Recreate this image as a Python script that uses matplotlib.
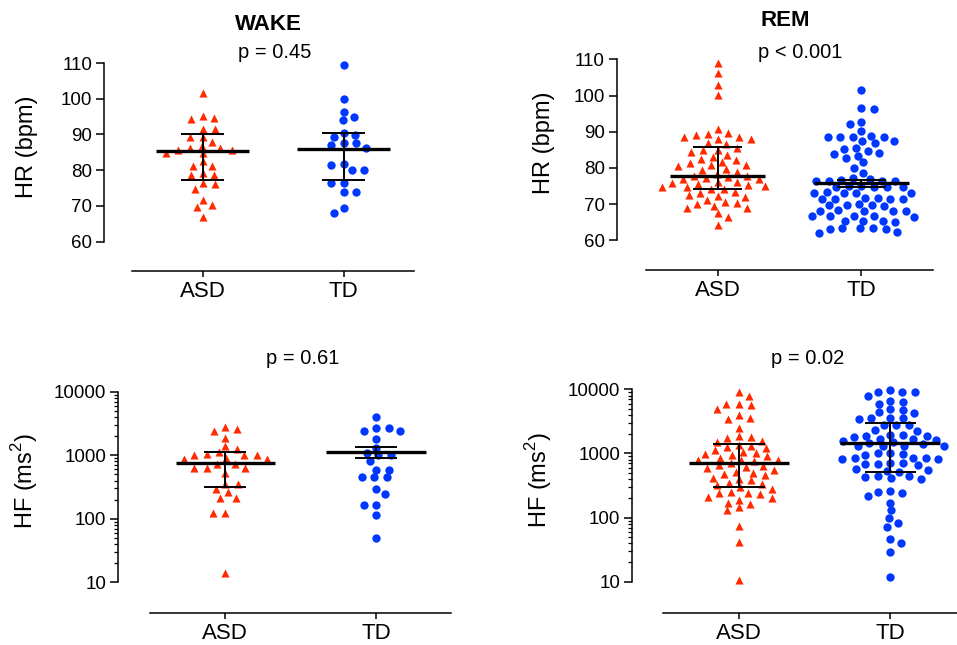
import numpy as np
import matplotlib.pyplot as plt
from matplotlib.ticker import LogLocator, NullFormatter

plt.rcParams['font.family'] = ['Liberation Sans', 'DejaVu Sans']
plt.rcParams['mathtext.fontset'] = 'custom'
plt.rcParams['mathtext.rm'] = 'Liberation Sans'

groups = ['ASD', 'TD']

# HR (bpm), wake
wake_hr_asd = [101.7, 95.2, 94.6, 94.4, 91.5, 91.5, 89.3, 89.3, 88.0, 86.9, 86.3, 86.3,
               85.7, 85.7, 84.8, 84.8, 82.6, 81.3, 81.3, 79.3, 78.6, 78.6, 76.5, 76.2,
               74.8, 71.7, 70.3, 69.8, 67.0]
wake_hr_td = [109.4, 99.9, 96.2, 95.0, 94.0, 90.5, 89.9, 89.2, 87.5, 87.5, 87.1, 86.3,
              81.7, 81.5, 80.1, 80.1, 76.4, 76.4, 74.0, 74.0, 69.4, 68.1]

# HR (bpm), REM
rem_hr_asd = [108.9, 106.3, 102.8, 100.1, 90.7, 89.6, 89.4, 89.1, 88.6, 88.4, 88.1, 87.9,
              86.8, 86.6, 85.6, 84.9, 84.9, 84.5, 83.6, 83.0, 82.4, 82.1, 81.7, 81.3,
              80.8, 80.8, 80.6, 79.7, 79.5, 78.9, 78.3, 77.8, 77.7, 77.5, 77.1, 76.8,
              76.8, 76.0, 76.0, 75.8, 75.5, 75.3, 75.0, 74.7, 74.7, 74.2, 74.2, 73.4,
              73.2, 72.6, 72.3, 72.0, 71.2, 70.6, 70.3, 69.9, 69.5, 69.0, 68.8, 67.5,
              66.4, 64.2]
rem_hr_td = [101.5, 96.5, 96.3, 92.8, 92.0, 90.1, 88.9, 88.6, 88.6, 88.6, 88.6, 87.3,
             87.3, 86.9, 85.5, 85.2, 84.7, 84.0, 83.9, 83.4, 82.7, 81.5, 80.0, 78.5,
             77.3,
             76.8, 76.6, 76.5, 76.5, 76.4, 76.3,
             75.0, 74.9, 74.8, 74.8, 74.7, 74.6,
             73.3, 73.2, 73.2, 73.1, 73.0,
             71.7, 71.6, 71.5, 71.4, 71.4, 71.3,
             69.9, 69.8, 69.8, 69.7, 69.6,
             68.3, 68.2, 68.2, 68.1, 68.0,
             66.8, 66.7, 66.7, 66.6, 66.5,
             65.4, 65.3, 65.2, 65.1,
             63.4, 63.3, 63.3, 63.2, 63.2,
             62.3, 62.1]

# HF (ms^2), wake
wake_hf_asd = [2750, 2550, 2430, 1840, 1400, 1240, 1110, 1050, 1000, 1000, 1000, 890,
               870, 860, 740, 740, 630, 630, 630, 520, 347, 347, 290, 263, 214, 214,
               122, 122, 14]
wake_hf_td = [3950, 2650, 2650, 2400, 2400, 1780, 1310, 1100, 1000, 1000, 820, 585,
              585, 447, 447, 447, 294, 245, 165, 165, 115, 49]

# HF (ms^2), REM
rem_hf_asd = [9200, 7800, 5900, 5900, 5700, 5000, 4000, 3600, 3500, 2500, 1900, 1800,
              1750, 1550, 1500, 1350, 1300, 1250, 1200, 1150, 1050, 1000, 980, 950,
              900, 860, 800, 790, 780, 760, 700, 650, 640, 620, 600, 560, 520, 500,
              480, 460, 420, 400, 380, 340, 330, 320, 300, 280, 250, 245, 240, 230,
              210, 205, 190, 170, 165, 145, 130, 75, 42, 10.5]
rem_hf_td = [9900, 9200, 9200, 9200, 8000, 6600, 6400, 5800, 4900, 4800, 4400, 4200,
             3550, 3550, 3550, 3500, 2800, 2780, 2750, 2300, 2250, 1950, 1950, 1900,
             1900, 1800, 1700, 1650, 1600, 1550, 1500, 1450, 1400, 1320, 1320, 1300,
             1300, 1000, 1000, 980, 960, 850, 850, 840, 830, 820, 700, 700, 690, 680,
             660, 570, 560, 540, 520, 450, 440, 430, 420, 400, 260, 250, 240, 215,
             170, 130, 100, 83, 72, 46, 40, 29, 12]

# median and interquartile range (ASD, TD) as drawn in the figure
wake_hr_med, wake_hr_q1, wake_hr_q3 = [85.3, 85.8], [77.2, 77.3], [90.0, 90.4]
rem_hr_med, rem_hr_q1, rem_hr_q3 = [77.8, 75.7], [74.2, 74.7], [85.8, 76.7]
wake_hf_med, wake_hf_q1, wake_hf_q3 = [762, 1120], [320, 895], [1137, 1340]
rem_hf_med, rem_hf_q1, rem_hf_q3 = [700, 1470], [299, 520], [1390, 2950]

W, H = 957, 645
RED = '#ff2a00'
BLUE = '#0037ff'

fig = plt.figure(figsize=(W / 100, H / 100), dpi=100)


def px_axes(x0, x1, ytop, ybot):
    return fig.add_axes([x0 / W, 1 - ybot / H, (x1 - x0) / W, (ybot - ytop) / H])


def swarm_x(ax, xc, values, dx_min=12.5, dy_min=7.5):
    """Greedy beeswarm with a wider horizontal than vertical spacing (GraphPad-like)."""
    pts = ax.transData.transform(np.column_stack([np.full(len(values), xc), values]))
    ys = pts[:, 1] * (dx_min / dy_min)
    d = dx_min
    placed = []
    offs = np.zeros(len(values))
    side = 1
    for i in np.argsort(-ys, kind='stable'):
        y = ys[i]
        cands = [0.0]
        for px, py in placed:
            dy = abs(py - y)
            if dy < d:
                dx = np.sqrt(d * d - dy * dy)
                cands += [px + dx, px - dx]
        # ties go to alternating sides so rows stay balanced
        cands.sort(key=lambda c: (round(abs(c), 3), -side * np.sign(c)))
        for c in cands:
            if all((c - px) ** 2 + (y - py) ** 2 >= d * d - 1e-6 for px, py in placed):
                break
        if c != 0:
            side = -np.sign(c)
        placed.append((c, y))
        offs[i] = c
    px_per_unit = ax.transData.transform((1, 0))[0] - ax.transData.transform((0, 0))[0]
    return xc + offs / px_per_unit


def draw_panel(ax, asd, td, med, q1, q3, log, left_out, bottom_out, half, cap):
    ax.set_xlim(-0.5, 1.5)
    if log:
        ax.set_yscale('log')
        ax.set_ylim(10, 10000)
        ax.set_yticks([10, 100, 1000, 10000])
        ax.set_yticklabels(['10', '100', '1000', '10000'])
        ax.yaxis.set_minor_locator(LogLocator(base=10, subs=np.arange(2, 10)))
        ax.yaxis.set_minor_formatter(NullFormatter())
    else:
        ax.set_ylim(60, 110)
        ax.set_yticks(np.arange(60, 111, 10))

    ax.set_xticks([0, 1])
    ax.set_xticklabels(groups)

    for s in ['top', 'right']:
        ax.spines[s].set_visible(False)
    ax.spines['left'].set_position(('outward', left_out * 0.72))
    ax.spines['bottom'].set_position(('outward', bottom_out * 0.72))
    for s in ['left', 'bottom']:
        ax.spines[s].set_linewidth(1.1)
    ax.patch.set_alpha(0)

    ax.tick_params(axis='y', which='major', direction='out', length=5.5, width=1.1,
                   labelsize=13.5, pad=3)
    ax.tick_params(axis='y', which='minor', direction='out', length=3, width=0.9)
    ax.tick_params(axis='x', direction='out', length=4.5, width=1.1, labelsize=16, pad=3)

    ax.scatter(swarm_x(ax, 0, asd), asd, marker='^', s=34, color=RED,
               linewidths=0, clip_on=False, zorder=2)
    ax.scatter(swarm_x(ax, 1, td), td, marker='o', s=36, color=BLUE,
               linewidths=0, clip_on=False, zorder=2)

    # median with interquartile range
    for i in range(2):
        ax.hlines(med[i], i - half, i + half, color='black', lw=2.4, zorder=4)
        ax.vlines(i, q1[i], q3[i], color='black', lw=1.4, zorder=4)
        ax.hlines([q1[i], q3[i]], i - cap, i + cap, color='black', lw=1.4, zorder=4)


def ftext(x, y, s, **kw):
    fig.text(x / W, 1 - y / H, s, ha='center', va='center', **kw)


ax1 = px_axes(132, 414, 63, 241.7)
draw_panel(ax1, wake_hr_asd, wake_hr_td, wake_hr_med, wake_hr_q1, wake_hr_q3,
           False, 27.7, 29, 0.33, 0.155)

ax2 = px_axes(646, 933, 59.3, 240.3)
draw_panel(ax2, rem_hr_asd, rem_hr_td, rem_hr_med, rem_hr_q1, rem_hr_q3,
           False, 29.3, 29.7, 0.33, 0.17)

ax3 = px_axes(150, 451.5, 391.7, 582.3)
draw_panel(ax3, wake_hf_asd, wake_hf_td, wake_hf_med, wake_hf_q1, wake_hf_q3,
           True, 31.7, 30.4, 0.33, 0.14)

ax4 = px_axes(663.3, 966, 389.3, 581.7)
draw_panel(ax4, rem_hf_asd, rem_hf_td, rem_hf_med, rem_hf_q1, rem_hf_q3,
           True, 31, 31, 0.33, 0.17)

# titles and p values
ftext(268, 24, 'WAKE', fontsize=16, fontweight='bold')
ftext(275, 53, 'p = 0.45', fontsize=14.5)
ftext(785, 20, 'REM', fontsize=16, fontweight='bold')
ftext(800, 53, 'p < 0.001', fontsize=14.5)
ftext(303, 358, 'p = 0.61', fontsize=14.5)
ftext(808, 358, 'p = 0.02', fontsize=14.5)

# axis labels
ftext(27, 147, 'HR (bpm)', fontsize=17, rotation=90)
ftext(544, 143, 'HR (bpm)', fontsize=17, rotation=90)
ftext(25, 481, 'HF (ms$^\\mathregular{2}$)', fontsize=17, rotation=90)
ftext(539, 480, 'HF (ms$^\\mathregular{2}$)', fontsize=17, rotation=90)

fig.savefig('out.png', dpi=100)
